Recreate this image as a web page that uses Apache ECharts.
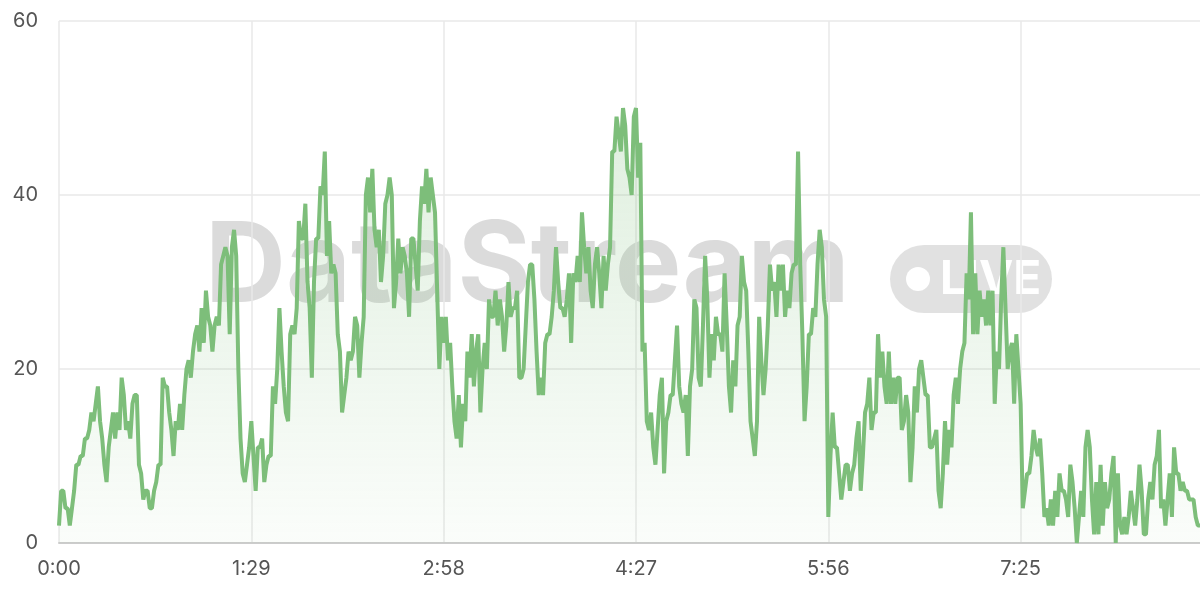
<!DOCTYPE html>
<html><head><meta charset="utf-8">
<script src="https://cdn.jsdelivr.net/npm/echarts@6/dist/echarts.min.js"></script>
<style>html,body{margin:0;padding:0;background:#fff}#c{width:1200px;height:600px}</style>
</head><body><div id="c"></div>
<script>
const seg1 = [2,6,6,4,4,2,4,6,9,9,10,10,12,12,13,15,14,16,18,14,12,9,7,11,13,15,12,15,13,19,17,13,14,12,16,17,17,9,8,5,6,6,4,4,6,7,9,9,19,18,18,15,13,10,14,13,16,13,17,20,21,19,22,24,25,22,27,23,29,26,25,22,25,26,25,32,33,34,33,24,34,36,33,20,12,8,7,9,11];
const seg2 = [14,10,6,11,11,12,7,9,10,10,18,16,20,27,22,18,15,14,24,25,24,27,37,35,35,39,30,27,19,30,35,35,41,40,45,33,37,31,32,31,24,22,15,17,19,22,21,22,26,25,19,23,26,40,42,38,43,36,34,36,30,33,39,40,42,40,27,30,35,31,34,33,31,26,35,35,32,29,37,41,39,43,38,42,40,38,29,20,26];
const seg3 = [23,26,21,23,18,14,12,17,11,16,14,22,19,24,18,22,24,15,20,23,20,28,26,26,29,25,28,26,22,25,30,26,27,27,29,19,19,20,25,30,32,32,28,22,17,19,17,23,24,24,26,29,34,30,27,27,26,28,31,23,31,30,33,30,38,34,31,34,29,27,32,34,31,27,33,29,32,34,45,45,49,47,45,50,48,43,42,40,49];
const seg4 = [50,42,46,22,23,14,13,15,11,9,13,17,19,8,14,15,17,17,21,25,18,16,15,17,10,18,20,28,27,19,18,25,33,28,19,24,21,26,24,24,22,31,25,18,15,21,18,25,26,33,30,29,22,14,12,10,14,26,21,17,20,25,32,29,30,26,32,29,32,26,29,27,31,32,32,45,32,24,14,18,24,24,27,26,32,36,34,28,26];
const seg5 = [3,10,15,11,11,8,5,7,9,9,6,8,9,12,14,6,10,15,16,19,13,15,15,24,19,22,18,16,22,16,19,16,19,19,13,14,17,15,7,11,18,15,20,21,19,17,17,11,11,12,13,6,4,8,14,9,13,11,17,19,16,20,22,23,31,28,38,24,31,24,29,26,28,25,29,25,29,16,22,20,28,34,27,20,22,23,16,24,20];
const seg6 = [16,4,6,8,8,10,13,11,10,12,8,3,4,2,5,2,6,3,8,6,6,5,3,9,7,4,0,3,6,3,11,13,11,5,1,7,1,9,2,7,4,5,8,10,0,8,2,1,3,1,3,6,4,2,5,9,6,1,1,5,7,5,9,10,13,4,5,2,5,8,3,11,8,8,6,7,6,6,5,5,5,3,2,2];
const values = [].concat(seg1, seg2, seg3, seg4, seg5, seg6);
const categories = values.map((_, i) => Math.floor(i / 60) + ':' + String(i % 60).padStart(2, '0'));
const yTicks = { min: 0, max: 60, interval: 20 };
const labelEvery = 89;

const chart = echarts.init(document.getElementById('c'));
chart.setOption({
  animation: false,
  grid: { left: 59, right: 0, top: 21, bottom: 57 },
  xAxis: {
    type: 'category', data: categories, boundaryGap: false,
    axisLine: { lineStyle: { color: '#cccccc', width: 2 } },
    axisTick: { show: false },
    axisLabel: { interval: labelEvery - 1, color: '#555', fontSize: 20, margin: 16, fontFamily: 'Inter' },
    splitLine: { show: true, interval: labelEvery - 1, lineStyle: { color: '#e9e9e9', width: 1.5 } }
  },
  yAxis: {
    type: 'value', min: yTicks.min, max: yTicks.max, interval: yTicks.interval,
    axisLabel: { color: '#555', fontSize: 20, margin: 21, fontFamily: 'Inter' },
    splitLine: { lineStyle: { color: '#e9e9e9', width: 1.5 } }
  },
  graphic: [
    { type: 'text', z: 0, left: 205, top: 212, style: { text: 'DataStream', fontSize: 112, fontWeight: 'bold', fontFamily: 'Inter', fill: 'rgba(195,195,195,0.6)' } },
    { type: 'rect', z: 0, shape: { x: 890, y: 245, width: 162, height: 68, r: 34 }, style: { fill: 'rgba(205,205,205,0.6)' } },
    { type: 'circle', z: 0, shape: { cx: 918, cy: 279, r: 12 }, style: { fill: '#fff' } },
    { type: 'text', z: 0, left: 940, top: 257, style: { text: 'LIVE', fontSize: 46, fontWeight: 'bold', fontFamily: 'Inter', fill: '#fff' } }
  ],
  series: [{
    type: 'line', data: values, showSymbol: false, z: 3,
    lineStyle: { color: '#7dbe7a', width: 4 },
    itemStyle: { color: '#7dbe7a' },
    areaStyle: { color: new echarts.graphic.LinearGradient(0, 0, 0, 1, [
      { offset: 0, color: 'rgba(125,190,122,0.35)' },
      { offset: 1, color: 'rgba(125,190,122,0.05)' }
    ]) }
  }]
});
</script></body></html>
